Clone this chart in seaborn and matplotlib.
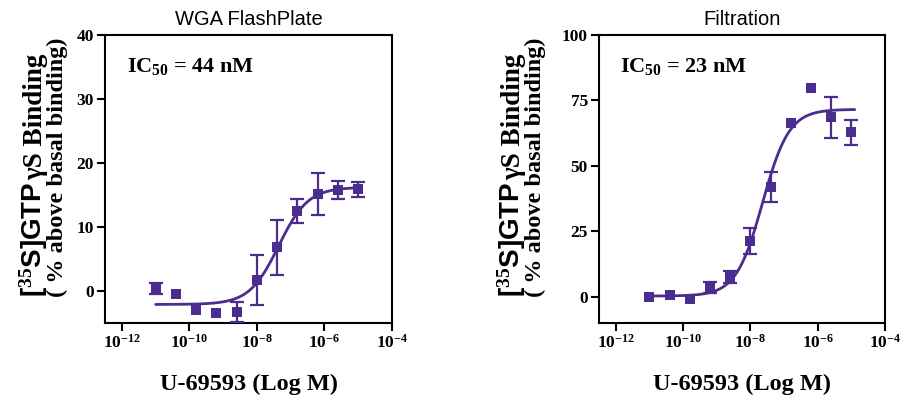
import numpy as np
import pandas as pd
import matplotlib
matplotlib.use("Agg")
import matplotlib.pyplot as plt
import seaborn as sns
from matplotlib.ticker import NullLocator

# Data (log10 of molar concentration of U-69593)
log_conc = [-11.0, -10.4, -9.8, -9.2, -8.6, -8.0, -7.4, -6.8, -6.2, -5.6, -5.0]

flash_mean = [0.4, -0.5, -2.9, -3.4, -3.3, 1.7, 6.8, 12.5, 15.2, 15.8, 15.9]
flash_sem = [0.8, 0.0, 0.0, 0.0, 1.6, 3.9, 4.3, 1.9, 3.3, 1.4, 1.2]

filt_mean = [0.0, 0.8, -0.9, 3.6, 7.4, 21.3, 42.0, 66.2, 79.7, 68.6, 62.8]
filt_sem = [0.0, 0.0, 0.0, 2.1, 2.3, 4.8, 5.6, 0.0, 0.0, 7.8, 4.8]

# sigmoidal fit parameters: bottom, top, log IC50, hill slope
flash_fit = (-2.1, 16.2, np.log10(44e-9), 1.0)
filt_fit = (0.3, 71.6, np.log10(23e-9), 1.1)

titles = ["WGA FlashPlate", "Filtration"]
ic50_labels = [r"IC$_{50}$ = 44 nM", r"IC$_{50}$ = 23 nM"]
ylims = [(-5, 40), (-10, 100)]
yticks = [[0, 10, 20, 30, 40], [0, 25, 50, 75, 100]]
xtick_exp = [-12, -10, -8, -6, -4]

purple = "#4B2D8F"

sns.set_theme(style="ticks")
plt.rcParams.update({
    "font.family": ["Liberation Serif", "DejaVu Serif"],
    "font.weight": "bold",
    "text.color": "black",
    "mathtext.fontset": "custom",
    "mathtext.rm": "Liberation Serif:bold",
    "mathtext.bf": "Liberation Serif:bold",
    "mathtext.it": "Liberation Serif:bold:italic",
    "mathtext.sf": "Liberation Sans:bold",
    "axes.edgecolor": "black",
    "axes.linewidth": 1.5,
})

fig = plt.figure(figsize=(9.01, 3.99), dpi=100)
W, H = 901, 399


def px_axes(x0, y0, x1, y1):
    return fig.add_axes([x0 / W, 1 - y1 / H, (x1 - x0) / W, (y1 - y0) / H])


axes = [px_axes(105, 35, 392, 323), px_axes(599, 35, 885, 323)]
panels = [(flash_mean, flash_sem, flash_fit), (filt_mean, filt_sem, filt_fit)]

for i, ax in enumerate(axes):
    mean, sem, fit = panels[i]
    df = pd.DataFrame({"conc": 10.0 ** np.array(log_conc), "mean": mean, "sem": sem})
    ax.set_xscale("log")

    bottom, top, logic50, hill = fit
    xfit = np.linspace(log_conc[0], log_conc[-1] + 0.1, 300)
    curve = pd.DataFrame({
        "conc": 10.0 ** xfit,
        "resp": bottom + (top - bottom) / (1 + 10 ** ((logic50 - xfit) * hill)),
    })
    sns.lineplot(data=curve, x="conc", y="resp", color=purple, lw=2, ax=ax)

    eb = df[df["sem"] > 0]
    ax.errorbar(eb["conc"], eb["mean"], yerr=eb["sem"], fmt="none",
                ecolor=purple, elinewidth=1.6, capsize=5, capthick=1.6, zorder=3)
    sns.scatterplot(data=df, x="conc", y="mean", marker="s", s=60,
                    color=purple, edgecolor=purple, linewidth=0, ax=ax, zorder=4)

    ax.set_xlim(10 ** -12.5, 1e-4)
    ax.set_ylim(*ylims[i])
    ax.set_xticks([10.0 ** e for e in xtick_exp])
    ax.set_xticklabels([r"$10^{%d}$" % e for e in xtick_exp])
    ax.xaxis.set_minor_locator(NullLocator())
    ax.set_yticks(yticks[i])
    ax.tick_params(axis="both", direction="out", length=6, width=1.5,
                   labelsize=12.5, color="black", labelcolor="black", pad=2)
    for lab in ax.get_yticklabels() + ax.get_xticklabels():
        lab.set_fontweight("bold")
    for s in ax.spines.values():
        s.set_visible(True)
        s.set_linewidth(1.5)
        s.set_color("black")
    ax.set_xlabel("")
    ax.set_ylabel("")
    ax.set_title(titles[i], fontsize=14.5, family="Liberation Sans",
                 fontweight="normal", color="black", pad=7)
    ax.text(0.075, 0.89, ic50_labels[i], transform=ax.transAxes, color="black",
            fontsize=16, fontweight="bold", ha="left", va="center")


# y label: sans-serif "[35S]GTP" followed by serif text, rotated, built piecewise
def vtext(x_px, y_disp, s, **kw):
    return fig.text(x_px / W, y_disp / H, s, rotation=90, rotation_mode="anchor",
                    ha="left", va="baseline", fontweight="bold", color="black", **kw)


renderer = fig.canvas.get_renderer()
for base_x in [42, 520]:
    y0 = H - 297
    part_a = vtext(base_x, y0, r"[$^{35}$S]GTP", family="Liberation Sans", fontsize=20)
    bb = part_a.get_window_extent(renderer)
    vtext(base_x, bb.y1 + 2, "γS Binding", family="Liberation Serif", fontsize=19.5)
    vtext(base_x + 21.5, y0, "( % above basal binding)", family="Liberation Serif",
          fontsize=17.5)

for cx in [248.5, 742]:
    fig.text(cx / W, 1 - 384 / H, "U-69593 (Log M)", ha="center", va="center",
             fontsize=17.5, fontweight="bold", color="black")

fig.savefig("out.png", dpi=100, facecolor="white")
